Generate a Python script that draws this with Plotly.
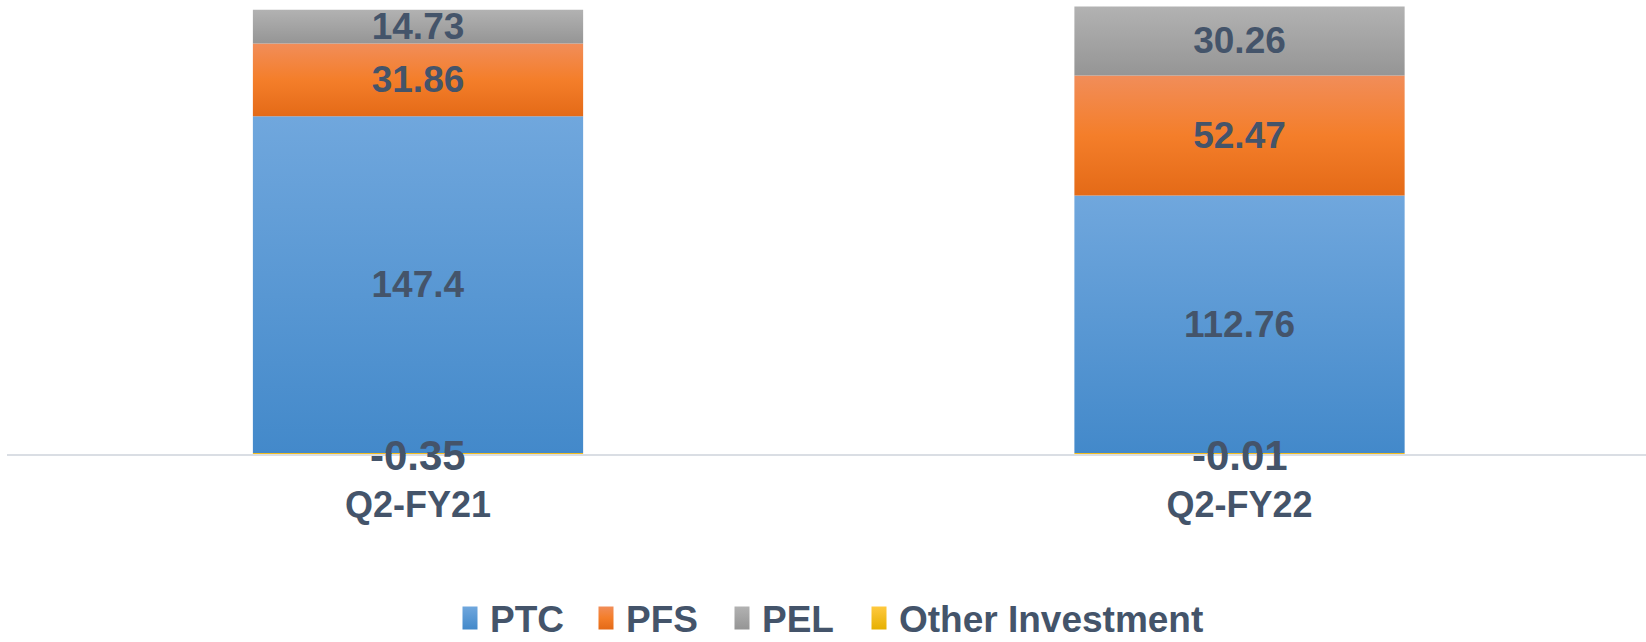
import plotly.graph_objects as go
import json

# ---- data ----
categories = ["Q2-FY21", "Q2-FY22"]
series_names = ["PTC", "PFS", "PEL", "Other Investment"]
ptc = [147.4, 112.76]
pfs = [31.86, 52.47]
pel = [14.73, 30.26]
other = [-0.35, -0.01]

# ---- style ----
TEXT = "#44546a"
FONT = "Liberation Sans"
solid = ["#5a9ad6", "#f07a2c", "#a3a3a3", "#f5bd1f"]
grad = [["#70a7dd", "#4389ca"], ["#f18d59", "#f47e2a", "#e46a17"],
        ["#b2b2b2", "#959595"], ["#ffc93f", "#e6b000"]]
legend_ids = ["legend", "legend2", "legend3", "legend4"]
legend_px = [450, 586, 722, 859]   # left edge of each legend entry (pixels)

fig = go.Figure()
values = [ptc, pfs, pel]
for name, vals, col, lg in zip(series_names[:3], values, solid[:3], legend_ids[:3]):
    fig.add_trace(go.Bar(
        x=categories, y=vals, name=name, legend=lg,
        marker=dict(color=col, line=dict(width=0)),
        width=0.402,
        text=[str(v) for v in vals], textposition="inside",
        insidetextanchor="middle", constraintext="none", textangle=0,
        textfont=dict(family=FONT, size=37, color=TEXT, weight="bold"),
        hoverinfo="skip",
    ))
fig.add_trace(go.Bar(
    x=categories, y=other, name=series_names[3], legend=legend_ids[3],
    marker=dict(color=solid[3], line=dict(width=0)),
    width=0.402, hoverinfo="skip",
))

# labels for the tiny negative segment (anchored at the data value)
annotations = [
    dict(x=c, y=v, xref="x", yref="y", text=str(v), showarrow=False,
         yshift=-2, font=dict(family=FONT, size=42, color=TEXT, weight="bold"))
    for c, v in zip(categories, other)
]

PLOT_W = 1639
legends = {}
for lg, px in zip(legend_ids, legend_px):
    legends[lg] = dict(orientation="h", x=(px - 7) / PLOT_W, xanchor="left",
                       y=-0.362, yanchor="middle", bgcolor="rgba(0,0,0,0)",
                       font=dict(family=FONT, size=37, color=TEXT, weight="bold"))

fig.update_layout(
    width=1646, height=642,
    margin=dict(l=7, r=0, t=0, b=188, autoexpand=False),
    barmode="relative",
    paper_bgcolor="white", plot_bgcolor="white",
    showlegend=True,
    annotations=annotations,
    xaxis=dict(range=[-0.5003, 1.4948], showline=True, linecolor="#dadee4", linewidth=2,
               layer="above traces",
               showgrid=False, zeroline=False, ticks="", ticklabelstandoff=18,
               automargin=False,
               tickfont=dict(family=FONT, size=36, color=TEXT, weight="bold")),
    yaxis=dict(range=[-0.4, 198.29], showgrid=False, zeroline=False, showticklabels=False,
               showline=False, automargin=False),
    **legends,
)

post = """
document.documentElement.style.margin='0';
document.body.style.margin='0';
document.body.style.overflow='hidden';
var gd = document.getElementById('{plot_id}');
var grads = %s;
var names = %s;
var legIds = %s;
var ns = 'http://www.w3.org/2000/svg';
// gradient definitions, kept in a hidden svg of their own
var hold = document.createElementNS(ns,'svg');
hold.setAttribute('width','0'); hold.setAttribute('height','0');
hold.style.position='absolute'; hold.style.left='0'; hold.style.top='0';
var defs = document.createElementNS(ns,'defs');
hold.appendChild(defs);
document.body.insertBefore(hold, document.body.firstChild);
grads.forEach(function(g,i){
  var lg = document.createElementNS(ns,'linearGradient');
  lg.setAttribute('id','bgrad'+i);
  lg.setAttribute('x1','0'); lg.setAttribute('y1','0');
  lg.setAttribute('x2','0'); lg.setAttribute('y2','1');
  g.forEach(function(c,k){
    var s = document.createElementNS(ns,'stop');
    s.setAttribute('offset', (g.length==1?0:k/(g.length-1)));
    s.setAttribute('stop-color', c);
    lg.appendChild(s);
  });
  defs.appendChild(lg);
});
var css = '';
legIds.forEach(function(id,i){
  css += '.' + id + ' .legendpoints path{fill:url(#bgrad'+i+') !important;' +
         'd:path("M7.5,11.5H-7.5V-11.5H7.5Z") !important;}\\n';
  css += '.barlayer .trace:nth-of-type(' + (i+1) + ') .point path{fill:url(#bgrad'+i+') !important;}\\n';
});
var st = document.createElement('style');
st.textContent = css;
document.head.appendChild(st);
function apply(){
  gd.querySelectorAll('.barlayer .trace').forEach(function(t,i){
    t.querySelectorAll('path').forEach(function(p){ p.style.fill='url(#bgrad'+i+')'; });
  });
}
apply();
if(gd.on){ gd.on('plotly_afterplot', apply); }
""" % (json.dumps(grad), json.dumps(series_names), json.dumps(legend_ids))

fig.write_html("out.html", post_script=post, config={"displayModeBar": False})
